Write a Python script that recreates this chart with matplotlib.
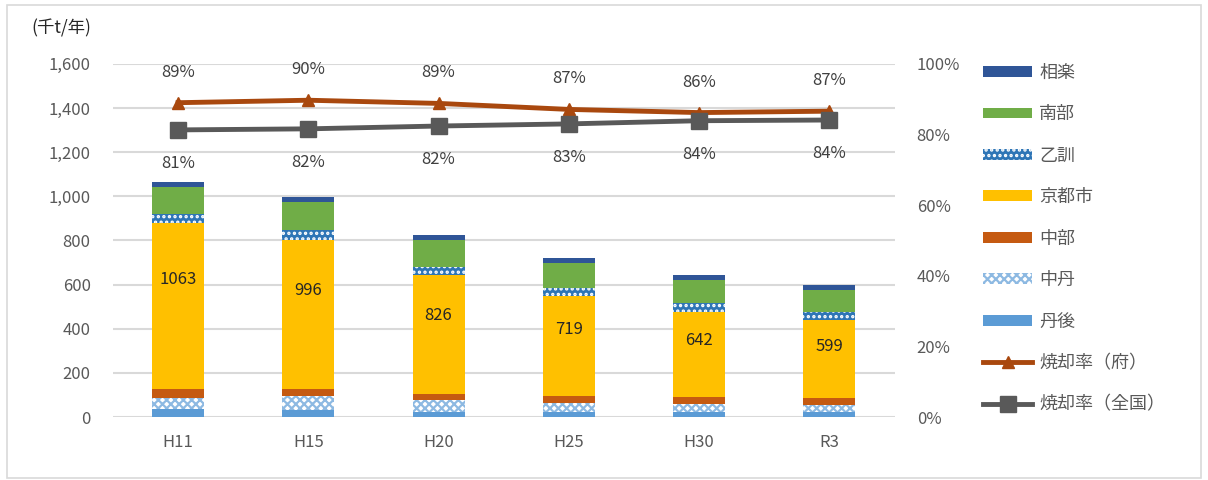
import numpy as np
import matplotlib
matplotlib.use("Agg")
import matplotlib.pyplot as plt
from matplotlib.patches import Rectangle

plt.rcParams['font.family'] = ['Noto Sans CJK JP', 'DejaVu Sans']
plt.rcParams['hatch.linewidth'] = 1.6

# data (千t/年)
years = ['H11', 'H15', 'H20', 'H25', 'H30', 'R3']
tango = [35, 30, 24, 24, 24, 23]
chutan = [53, 65, 53, 41, 36, 32]
chubu = [41, 33, 29, 30, 30, 30]
kyoto = [748, 676, 538, 455, 387, 354]
otokuni = [42, 42, 38, 36, 38, 39]
nanbu = [121, 127, 118, 113, 104, 98]
soraku = [23, 23, 26, 20, 23, 23]
totals = [1063, 996, 826, 719, 642, 599]
rate_fu = [0.890, 0.897, 0.888, 0.871, 0.862, 0.866]
rate_zenkoku = [0.813, 0.816, 0.824, 0.830, 0.839, 0.841]
fu_labels = ['89%', '90%', '89%', '87%', '86%', '87%']
zenkoku_labels = ['81%', '82%', '82%', '83%', '84%', '84%']

grey = '#595959'
series = [
    ('丹後', tango, dict(color='#5B9BD5')),
    ('中丹', chutan, dict(facecolor='white', edgecolor='#8DB9E2', hatch='xxxx', linewidth=0)),
    ('中部', chubu, dict(color='#C55A11')),
    ('京都市', kyoto, dict(color='#FFC000')),
    ('乙訓', otokuni, dict(facecolor='#2E75B6', edgecolor='white', hatch='...', linewidth=0)),
    ('南部', nanbu, dict(color='#70AD47')),
    ('相楽', soraku, dict(color='#2F5597')),
]

fig = plt.figure(figsize=(12.08, 4.8), dpi=100)
fig.add_artist(Rectangle((0.006, 0.004), 0.988, 0.985, transform=fig.transFigure,
                         fill=False, edgecolor='#D9D9D9', linewidth=1.2))
ax = fig.add_axes([0.0935, 0.131, 0.647, 0.736])
x = np.arange(len(years))

bottom = np.zeros(len(years))
handles = {}
for name, vals, style in series:
    b = ax.bar(x, vals, 0.4, bottom=bottom, label=name, zorder=2, **style)
    handles[name] = b
    bottom += np.array(vals)

# total labels inside the 京都市 segment
base = np.array(tango) + np.array(chutan) + np.array(chubu)
for i, t in enumerate(totals):
    ax.text(x[i], base[i] + 0.66 * kyoto[i], str(t), ha='center', va='center',
            fontsize=12, color='#262626', zorder=5)

ax.set_ylim(0, 1600)
ax.set_xlim(-0.5, len(years) - 0.5)
ax.set_yticks(np.arange(0, 1601, 200))
ax.set_yticklabels([f'{v:,}' for v in range(0, 1601, 200)])
ax.set_xticks(x)
ax.set_xticklabels(years)
ax.grid(axis='y', color='#D9D9D9', linewidth=1.5, zorder=0)
ax.set_axisbelow(True)
for s in ax.spines.values():
    s.set_visible(False)
ax.tick_params(axis='y', length=0, pad=16, labelsize=12, labelcolor=grey)
ax.tick_params(axis='x', length=0, pad=12, labelsize=12, labelcolor=grey)
fig.text(0.026, 0.94, '(千t/年)', fontsize=12.5, color='#262626', ha='left', va='center')

ax2 = ax.twinx()
ax2.set_ylim(0, 1)
ax2.set_yticks(np.arange(0, 1.01, 0.2))
ax2.set_yticklabels([f'{int(round(v * 100))}%' for v in np.arange(0, 1.01, 0.2)])
for s in ax2.spines.values():
    s.set_visible(False)
ax2.tick_params(axis='y', length=0, pad=16, labelsize=12, labelcolor=grey)

l1, = ax2.plot(x, rate_fu, color='#A9480E', linewidth=3.5, marker='^', markersize=9,
               label='焼却率（府）', zorder=4)
l2, = ax2.plot(x, rate_zenkoku, color=grey, linewidth=3.5, marker='s', markersize=11,
               label='焼却率（全国）', zorder=4)
for i in range(len(years)):
    ax2.annotate(fu_labels[i], (x[i], rate_fu[i]), xytext=(0, 22),
                 textcoords='offset points', ha='center', va='center', fontsize=12, color='#404040')
    ax2.annotate(zenkoku_labels[i], (x[i], rate_zenkoku[i]), xytext=(0, -24),
                 textcoords='offset points', ha='center', va='center', fontsize=12, color='#404040')

order = ['相楽', '南部', '乙訓', '京都市', '中部', '中丹', '丹後']
leg = fig.legend([handles[n] for n in order] + [l1, l2], order + ['焼却率（府）', '焼却率（全国）'],
                 loc='upper left', bbox_to_anchor=(0.808, 0.882), frameon=False,
                 fontsize=13, handlelength=2.7, handleheight=0.55, labelspacing=1.3,
                 handletextpad=0.4, borderaxespad=0)
for t in leg.get_texts():
    t.set_color(grey)

fig.savefig('out.png', dpi=100)
